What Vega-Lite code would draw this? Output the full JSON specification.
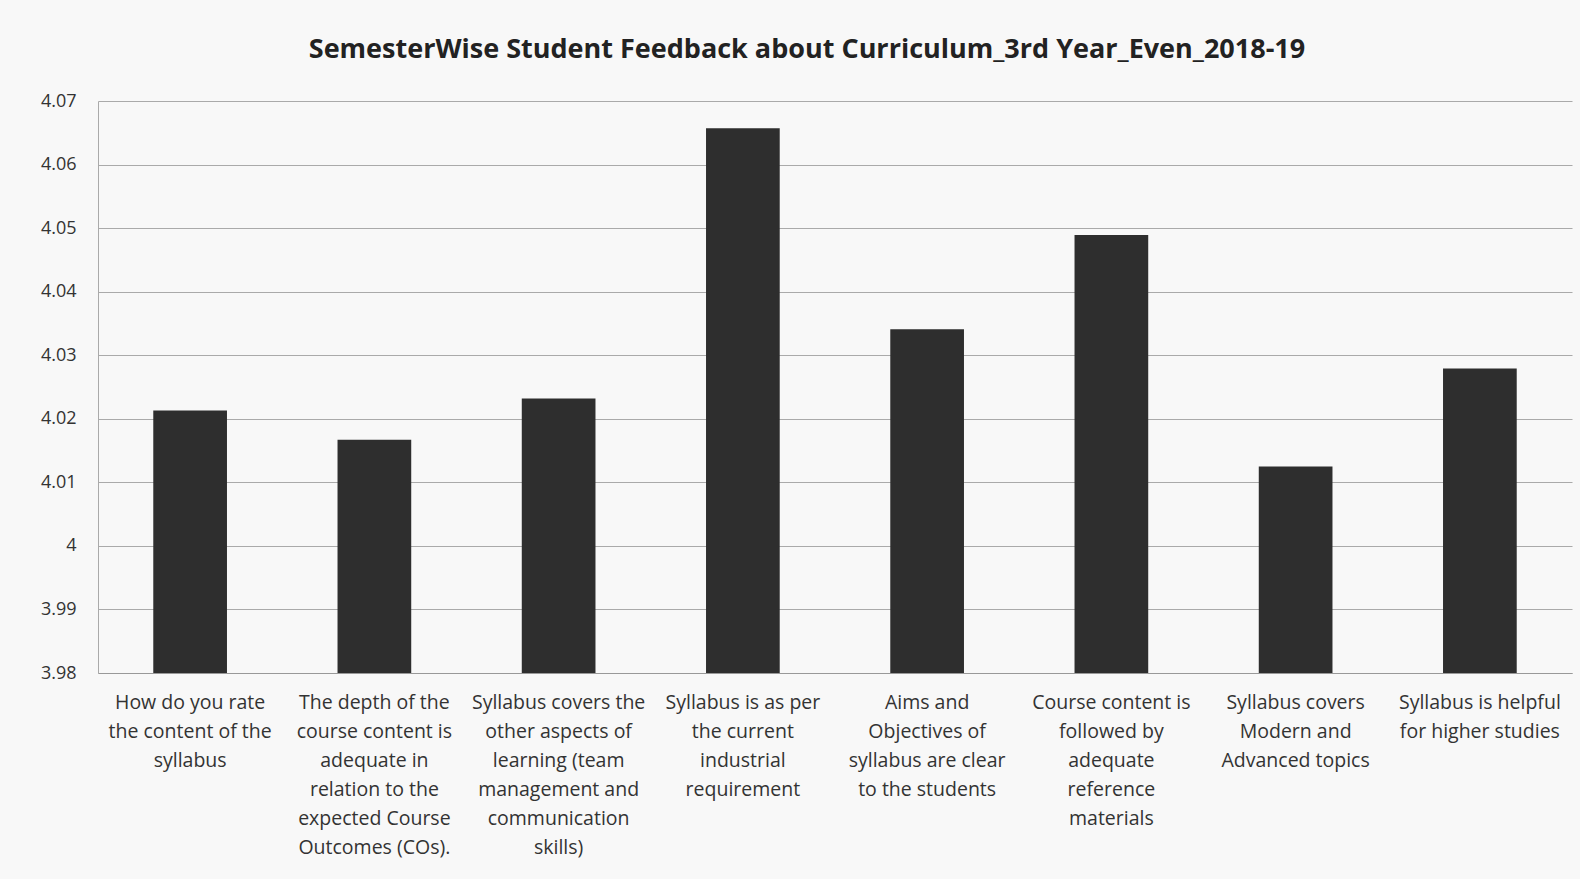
{
  "$schema": "https://vega.github.io/schema/vega-lite/v6.json",
  "width": 1474,
  "height": 572,
  "autosize": "none",
  "padding": {"left": 98, "top": 101, "right": 8, "bottom": 206},
  "background": "#f8f8f8",
  "title": {
    "text": "SemesterWise Student Feedback about Curriculum_3rd Year_Even_2018-19",
    "font": "Open Sans",
    "fontSize": 27,
    "fontWeight": "bold",
    "color": "#222222",
    "anchor": "middle",
    "dx": -28,
    "offset": 28
  },
  "data": {
    "values": [
      {"question": "How do you rate|the content of the|syllabus", "score": 4.0213},
      {"question": "The depth of the|course content is|adequate in|relation to the|expected Course|Outcomes (COs).", "score": 4.0167},
      {"question": "Syllabus covers the|other aspects of|learning (team|management and|communication|skills)", "score": 4.0232},
      {"question": "Syllabus is as per|the current|industrial|requirement", "score": 4.0657},
      {"question": "Aims and|Objectives of|syllabus are clear|to the students", "score": 4.0341},
      {"question": "Course content is|followed by|adequate|reference|materials", "score": 4.0489},
      {"question": "Syllabus covers|Modern and|Advanced topics", "score": 4.0125},
      {"question": "Syllabus is helpful|for higher studies", "score": 4.0279}
    ]
  },
  "mark": {"type": "bar", "color": "#2e2e2e", "clip": true},
  "encoding": {
    "x": {
      "field": "question",
      "type": "nominal",
      "sort": null,
      "title": null,
      "scale": {"paddingInner": 0.6, "paddingOuter": 0.3},
      "axis": {
        "labelExpr": "split(datum.label, '|')",
        "labelAngle": 0,
        "labelFont": "Open Sans",
        "labelFontSize": 19.5,
        "labelColor": "#333333",
        "labelLineHeight": 29,
        "labelPadding": 20,
        "labelLimit": 400,
        "ticks": false,
        "domainColor": "#999999",
        "labelBaseline": "top"
      }
    },
    "y": {
      "field": "score",
      "type": "quantitative",
      "title": null,
      "scale": {"domain": [3.98, 4.07], "zero": false, "nice": false},
      "axis": {
        "values": [3.98, 3.99, 4.0, 4.01, 4.02, 4.03, 4.04, 4.05, 4.06, 4.07],
        "labelExpr": "format(datum.value, '.2~f')",
        "labelFont": "Open Sans",
        "labelFontSize": 18,
        "labelColor": "#333333",
        "labelPadding": 22,
        "ticks": false,
        "domain": true,
        "domainColor": "#aaaaaa",
        "gridColor": "#aaaaaa",
        "gridWidth": 1.2
      }
    }
  },
  "config": {"view": {"stroke": null}}
}
